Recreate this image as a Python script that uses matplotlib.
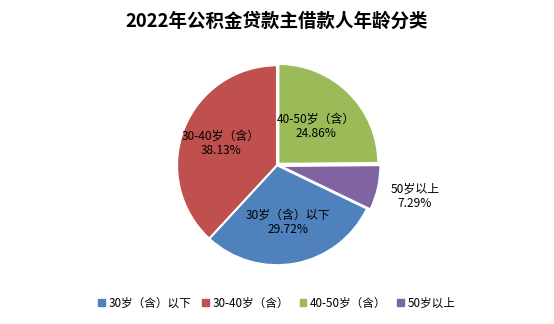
import matplotlib.pyplot as plt
import numpy as np

plt.rcParams['font.family'] = ['Noto Sans CJK SC', 'DejaVu Sans']

labels = ['30岁（含）以下', '30-40岁（含）', '40-50岁（含）', '50岁以上']
shares = [29.72, 38.13, 24.86, 7.29]
colors = ['#4f81bd', '#c0504d', '#9bbb59', '#8064a2']
explode = [0.0, 0.0, 0.02, 0.035]
# how far out each label sits (fraction of radius)
label_r = [0.58, 0.6, 0.53, 1.38]

fig = plt.figure(figsize=(5.54, 3.24), dpi=100)
ax = fig.add_axes([0.0, 0.16, 1.0, 0.66])

# start so that blue begins just below 3 o'clock, drawn clockwise
start = 90 - (shares[2] + shares[3]) * 3.6
wedges, _ = ax.pie(shares, colors=colors, explode=explode, startangle=start,
                   counterclock=False, radius=1.0,
                   wedgeprops=dict(edgecolor='white', linewidth=1.5))
ax.set_aspect('equal')
ax.set_xlim(-1.4, 1.4)
ax.set_ylim(-1.07, 1.07)

for w, lab, v, r in zip(wedges, labels, shares, label_r):
    ang = np.deg2rad((w.theta1 + w.theta2) / 2)
    cx, cy = w.center
    ax.text(cx + r * np.cos(ang), cy + r * np.sin(ang), '%s\n%.2f%%' % (lab, v),
            ha='center', va='center', fontsize=8.6, color='black', linespacing=1.1)

fig.text(0.5, 0.935, '2022年公积金贷款主借款人年龄分类', ha='center', va='center',
         fontsize=13.3, fontweight='bold')

handles = [plt.Rectangle((0, 0), 1, 1, color=c) for c in colors]
fig.legend(handles, labels, loc='center', bbox_to_anchor=(0.5, 0.065), ncol=4,
           frameon=False, fontsize=8.4, handlelength=0.55, handleheight=0.55,
           handletextpad=0.35, columnspacing=0.9)

fig.savefig('out.png', dpi=100)
